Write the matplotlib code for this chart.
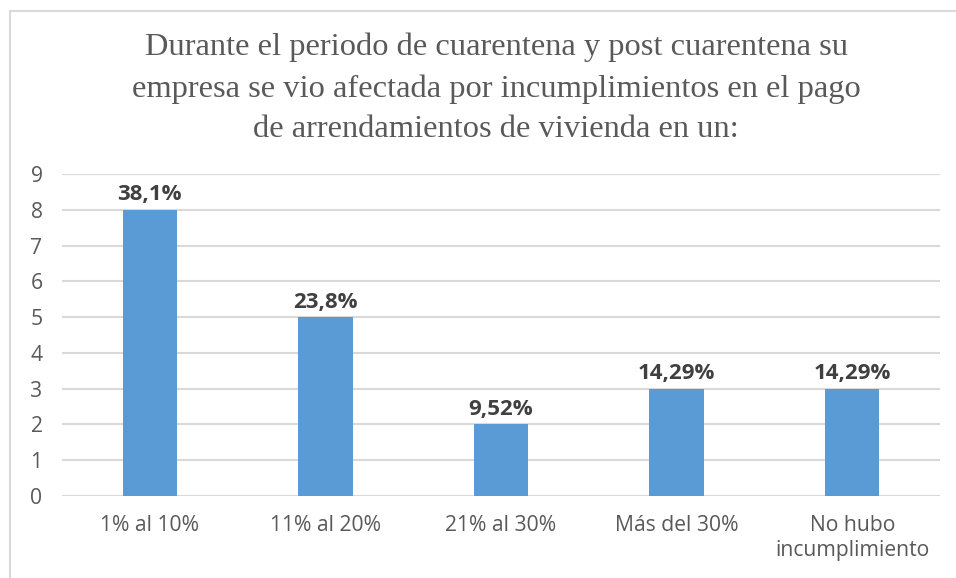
import matplotlib.pyplot as plt
from matplotlib.lines import Line2D
import numpy as np

categorias = ['1% al 10%', '11% al 20%', '21% al 30%', 'Más del 30%', 'No hubo\nincumplimiento']
valores = [8, 5, 2, 3, 3]
etiquetas = ['38,1%', '23,8%', '9,52%', '14,29%', '14,29%']

titulo = ('Durante el periodo de cuarentena y post cuarentena su\n'
          'empresa se vio afectada por incumplimientos en el pago\n'
          'de arrendamientos de vivienda en un:')

gris = '#595959'
azul = '#5B9BD5'

fig = plt.figure(figsize=(9.56, 5.78), dpi=100)
ax = fig.add_axes([0.0649, 0.1419, 0.9184, 0.5571])

x = np.arange(len(categorias))
barras = ax.bar(x, valores, width=0.31, color=azul, zorder=3)

for b, et in zip(barras, etiquetas):
    ax.text(b.get_x() + b.get_width() / 2, b.get_height() + 0.12, et,
            ha='center', va='bottom', fontsize=16, fontweight='bold',
            color='#404040', family='Open Sans')

ax.set_xlim(-0.5, len(categorias) - 0.5)
ax.set_ylim(0, 9)
ax.set_yticks(range(0, 10))
ax.set_xticks(x)
ax.set_xticklabels(categorias, fontsize=15.2, color=gris, family='Open Sans',
                   linespacing=1.25)
for lbl in ax.get_yticklabels():
    lbl.set_fontsize(15.2)
    lbl.set_color(gris)
    lbl.set_family('Open Sans')

ax.grid(axis='y', color='#d9d9d9', linewidth=1.5, zorder=0)
ax.tick_params(length=0, pad=14)
ax.tick_params(axis='y', pad=14)
for s in ax.spines.values():
    s.set_visible(False)

fig.text(0.519, 0.943, titulo, ha='center', va='top', fontsize=23.4,
         family='Liberation Serif', color=gris, linespacing=1.52)

# marco del gráfico
fig.add_artist(Line2D([9.5 / 956, 1], [1 - 10.5 / 578, 1 - 10.5 / 578],
                      color='#d9d9d9', linewidth=1.5))
fig.add_artist(Line2D([10 / 956, 10 / 956], [0, 1 - 10.5 / 578],
                      color='#d9d9d9', linewidth=1.5))

fig.savefig('out.png', dpi=100)
